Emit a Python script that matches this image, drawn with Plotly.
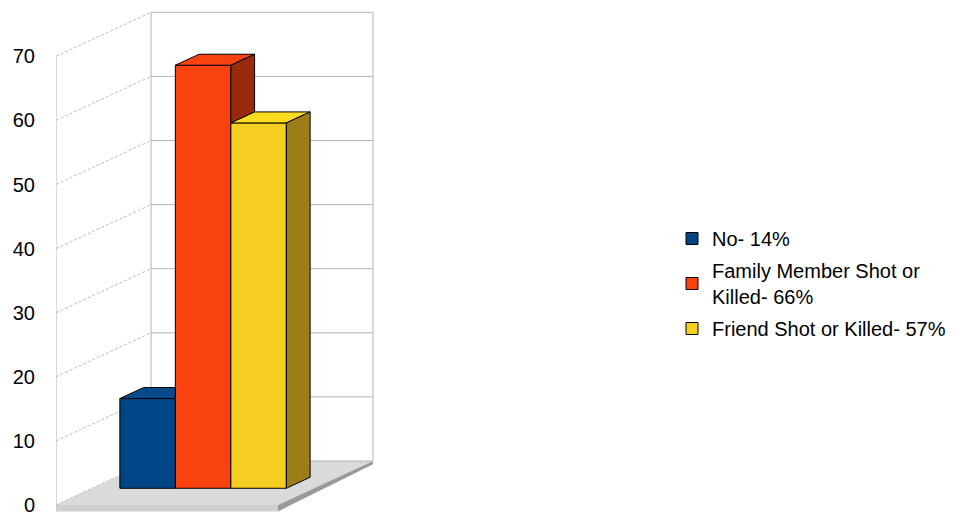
import plotly.graph_objects as go

# ---- data ----
categories = ["No- 14%", "Family Member Shot or<br>Killed- 66%", "Friend Shot or Killed- 57%"]
values = [14, 66, 57]
tick_values = [0, 10, 20, 30, 40, 50, 60, 70]

# ---- styling ----
front_colors = ["#004586", "#f9420e", "#f7cf22"]
top_colors = ["#074b8d", "#fa4410", "#fddc1f"]
side_colors = ["#002a52", "#992b0a", "#9b7e18"]
grid_color = "#b3b3b3"
wall_dash_color = "#bdbdbd"
font_family = "Liberation Sans, Arial, sans-serif"

# ---- oblique projection of the box ----
PX_PER_U = 222.0          # horizontal pixels per category-width unit
PX_PER_V = 6.41           # vertical pixels per value unit
DEPTH_X = 95.0 / PX_PER_U  # horizontal shift for full depth (in u)
DEPTH_Y = 44.0 / PX_PER_V  # vertical shift for full depth (in v)

BAR_W = 0.25              # bar width (u)
GROUP_START = 0.125       # left edge of the bar group (u)
BAR_D0 = 0.38             # front plane of the bars (depth fraction)
BAR_DD = 0.25             # bar depth (fraction)

W, H = 966, 515
M_L = 56
ZERO_PX = 505.0           # pixel row of value 0 on the front plane
y_max = ZERO_PX / PX_PER_V
y_min = y_max - H / PX_PER_V
x_max = (W - M_L) / PX_PER_U


def proj(u, v, d):
    return u + d * DEPTH_X, v + d * DEPTH_Y


def poly_path(pts):
    return "M " + " L ".join(f"{x},{y}" for x, y in pts) + " Z"


fig = go.Figure()
shapes = []

# floor slab: top surface, front band, right edge
floor_t = 1.0
shapes.append(dict(type="path", layer="below", xref="x", yref="y",
                   path=poly_path([proj(0, 0, 0), proj(1, 0, 0), proj(1, 0, 1), proj(0, 0, 1)]),
                   fillcolor="#dadada", line=dict(width=0)))
shapes.append(dict(type="path", layer="below", xref="x", yref="y",
                   path=poly_path([proj(0, 0, 0), proj(1, 0, 0), proj(1, -floor_t, 0), proj(0, -floor_t, 0)]),
                   fillcolor="#cfcfcf", line=dict(width=0)))
shapes.append(dict(type="path", layer="below", xref="x", yref="y",
                   path=poly_path([proj(1, 0, 0), proj(1, 0, 1), proj(1, -floor_t * 0.5, 1), proj(1, -floor_t, 0)]),
                   fillcolor="#9a9a9a", line=dict(width=0)))

top_v = tick_values[-1]
# back wall grid lines
for v in tick_values:
    x0, y0 = proj(0, v, 1)
    x1, y1 = proj(1, v, 1)
    shapes.append(dict(type="line", layer="below", xref="x", yref="y",
                       x0=x0, y0=y0, x1=x1, y1=y1, line=dict(color=grid_color, width=1)))
# back wall vertical edges
for u in (0, 1):
    x0, y0 = proj(u, 0, 1)
    x1, y1 = proj(u, top_v, 1)
    shapes.append(dict(type="line", layer="below", xref="x", yref="y",
                       x0=x0, y0=y0, x1=x1, y1=y1, line=dict(color=grid_color, width=1)))
# left wall dashed grid lines
for v in tick_values:
    x0, y0 = proj(0, v, 0)
    x1, y1 = proj(0, v, 1)
    shapes.append(dict(type="line", layer="below", xref="x", yref="y",
                       x0=x0, y0=y0, x1=x1, y1=y1,
                       line=dict(color=wall_dash_color, width=1, dash="3px,2px")))
# front left edge
x0, y0 = proj(0, 0, 0)
x1, y1 = proj(0, top_v, 0)
shapes.append(dict(type="line", layer="below", xref="x", yref="y",
                   x0=x0, y0=y0, x1=x1, y1=y1, line=dict(color=grid_color, width=1)))

# front faces of the bars
base_v = BAR_D0 * DEPTH_Y
for i, (name, val) in enumerate(zip(categories, values)):
    u_c = GROUP_START + (i + 0.5) * BAR_W
    fig.add_trace(go.Bar(
        x=[u_c + BAR_D0 * DEPTH_X], y=[val], base=[base_v], width=[BAR_W],
        name=name, marker=dict(color=front_colors[i], line=dict(color="#000000", width=1)),
        legendgroup=f"g{i}", hoverinfo="skip"))

# top and side faces, left to right
for i, val in enumerate(values):
    ul = GROUP_START + i * BAR_W
    ur = ul + BAR_W
    nxt = values[i + 1] if i + 1 < len(values) else None
    d1 = BAR_D0 + BAR_DD

    # top face (clipped by a taller neighbour's front face)
    A = proj(ul, val, BAR_D0)
    B = proj(ur, val, BAR_D0)
    C = proj(ur, val, d1)
    D = proj(ul, val, d1)
    if nxt is not None and nxt > val:
        C = (B[0], C[1])
    pts = [A, B, C, D, A]
    fig.add_trace(go.Scatter(x=[p[0] for p in pts], y=[p[1] for p in pts], mode="lines",
                             fill="toself", fillcolor=top_colors[i],
                             line=dict(color="#000000", width=1),
                             showlegend=False, hoverinfo="skip"))

    # right side face (only the part above the neighbour)
    low = 0 if nxt is None else nxt
    if low < val:
        P = [proj(ur, val, BAR_D0), proj(ur, val, d1), proj(ur, low, d1), proj(ur, low, BAR_D0)]
        P.append(P[0])
        fig.add_trace(go.Scatter(x=[p[0] for p in P], y=[p[1] for p in P], mode="lines",
                                 fill="toself", fillcolor=side_colors[i],
                                 line=dict(color="#000000", width=1),
                                 showlegend=False, hoverinfo="skip"))

fig.update_layout(
    width=W, height=H,
    margin=dict(l=M_L, r=0, t=0, b=0, autoexpand=False),
    paper_bgcolor="#ffffff", plot_bgcolor="#ffffff",
    barmode="overlay",
    shapes=shapes,
    font=dict(family=font_family, size=20, color="#000000"),
    xaxis=dict(range=[0, x_max], visible=False, fixedrange=True),
    yaxis=dict(range=[y_min, y_max], tickmode="array", tickvals=tick_values,
               ticktext=[str(v) for v in tick_values],
               showgrid=False, zeroline=False, showline=False, ticks="",
               ticklabelstandoff=20, ticklabeloverflow="allow", automargin=False,
               tickfont=dict(family=font_family, size=20, color="#000000")),
    legend=dict(x=(672 - M_L) / (W - M_L), xanchor="left", y=1 - 219 / H, yanchor="top",
                bgcolor="rgba(0,0,0,0)", borderwidth=0,
                font=dict(family=font_family, size=20, color="#000000"),
                traceorder="grouped", tracegroupgap=3),
    showlegend=True,
)

fig.write_html("out.html")
